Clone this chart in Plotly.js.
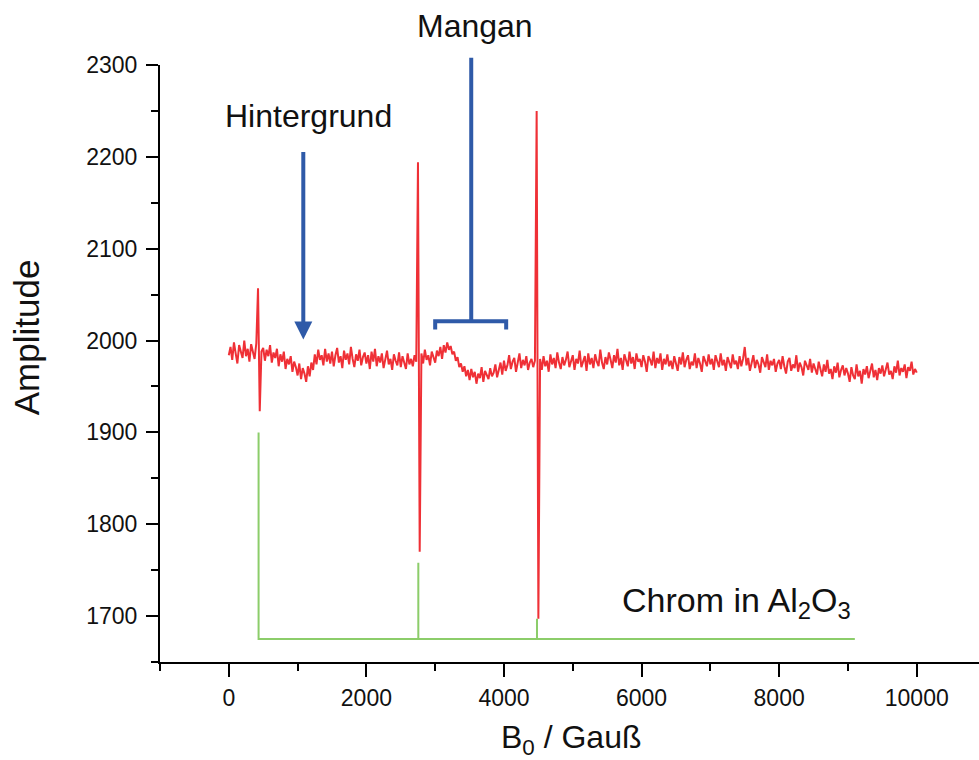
<!DOCTYPE html>
<html>
<head>
<meta charset="utf-8">
<script src="https://cdn.plot.ly/plotly-3.0.1.min.js"></script>
<style>
  html, body { margin: 0; padding: 0; background: #ffffff; }
  #chart { width: 979px; height: 760px; }
</style>
</head>
<body>
<div id="chart"></div>
<script>
// ---- Data ----
// Red EPR trace: amplitude sampled every 25 Gauss starting at 0 Gauss
const fieldStart = 0;      // Gauss
const fieldStep = 25;      // Gauss
const amplitude = [
  1984, 1993, 1979, 1998, 1986, 1975, 1995, 1988, 1981, 2000, 1983, 1991, 1977, 1996, 1989, 1980, 1997, 2057, 1923, 1988,
  1992, 1978, 1990, 1983, 1995, 1976, 1987, 1981, 1991, 1972, 1985, 1977, 1988, 1969, 1980, 1974, 1983, 1966, 1977, 1971,
  1962, 1975, 1958, 1970, 1964, 1955, 1972, 1961, 1976, 1968, 1985, 1974, 1990, 1979, 1984, 1973, 1991, 1977, 1986, 1975,
  1988, 1972, 1984, 1992, 1976, 1983, 1970, 1989, 1979, 1986, 1974, 1993, 1980, 1971, 1985, 1978, 1990, 1973, 1982, 1987,
  1975, 1984, 1969, 1988, 1977, 1991, 1972, 1983, 1976, 1986, 1970, 1982, 1989, 1974, 1980, 1968, 1985, 1978, 1973, 1987,
  1971, 1983, 1976, 1969, 1986, 1974, 1980, 1972, 1984, 1977, 2194, 1770, 1986, 1975, 1990, 1979, 1984, 1973, 1988, 1981,
  1976, 1989, 1983, 1993, 1980, 1995, 1987, 1998, 1990, 1994, 1985, 1988, 1978, 1982, 1971, 1975, 1966, 1972, 1961, 1968,
  1957, 1969, 1960, 1966, 1953, 1964, 1959, 1971, 1955, 1967, 1962, 1958, 1970, 1961, 1965, 1974, 1960, 1968, 1976, 1963,
  1978, 1967, 1973, 1984, 1969, 1977, 1981, 1966, 1975, 1986, 1970, 1979, 1973, 1983, 1968, 1976, 1980, 1971, 1978, 2250,
  1697, 1980, 1968, 1983, 1972, 1978, 1966, 1985, 1974, 1981, 1970, 1987, 1976, 1969, 1982, 1973, 1979, 1988, 1971, 1977,
  1984, 1968, 1980, 1975, 1989, 1971, 1978, 1983, 1967, 1986, 1974, 1981, 1970, 1985, 1977, 1972, 1990, 1976, 1969, 1982,
  1974, 1987, 1979, 1970, 1984, 1976, 1991, 1973, 1981, 1968, 1985, 1978, 1972, 1988, 1975, 1982, 1969, 1986, 1977, 1980,
  1971, 1984, 1977, 1966, 1983, 1979, 1973, 1988, 1970, 1981, 1975, 1986, 1968, 1980, 1974, 1985, 1972, 1978, 1969, 1983,
  1976, 1967, 1982, 1974, 1987, 1971, 1979, 1984, 1969, 1977, 1973, 1986, 1970, 1981, 1975, 1966, 1983, 1978, 1972, 1985,
  1974, 1980, 1968, 1984, 1977, 1971, 1986, 1973, 1979, 1967, 1982, 1976, 1970, 1985, 1974, 1978, 1969, 1983, 1972, 1980,
  1993, 1973, 1981, 1967, 1977, 1984, 1970, 1979, 1974, 1965, 1982, 1976, 1971, 1985, 1968, 1978, 1973, 1980, 1966, 1975,
  1979, 1969, 1983, 1972, 1964, 1977, 1981, 1967, 1974, 1970, 1984, 1966, 1976, 1971, 1962, 1978, 1973, 1968, 1980, 1965,
  1975, 1968, 1963, 1977, 1970, 1961, 1974, 1966, 1979, 1964, 1969, 1958, 1972, 1965, 1976, 1960, 1968, 1973, 1962, 1970,
  1964, 1955, 1971, 1962, 1958, 1974, 1961, 1967, 1953, 1969, 1963, 1972, 1959, 1966, 1975, 1960, 1968, 1957, 1970, 1964,
  1973, 1961, 1969, 1976, 1963, 1967, 1958, 1972, 1965, 1978, 1962, 1970, 1966, 1974, 1959, 1971, 1967, 1977, 1963, 1969,
  1965
];

// Green stick spectrum: Chrom in Al2O3
const chromField = [433, 433, 2755, 2755, 2755, 4480, 4480, 4480, 9100];
const chromAmp   = [1900, 1675, 1675, 1758, 1675, 1675, 1697, 1675, 1675];

// Axis ticks
const xTickVals = [0, 2000, 4000, 6000, 8000, 10000];
const xTickText = ['0', '2000', '4000', '6000', '8000', '10000'];
const yTickVals = [1700, 1800, 1900, 2000, 2100, 2200, 2300];
const yTickText = ['1700', '1800', '1900', '2000', '2100', '2200', '2300'];

// Annotation anchor values (in data units)
const hintergrundArrow = {x: 1083, yTip: 2001, yTail: 2207};
const manganBracket = {xStem: 3524, yTop: 2308, yBar: 2021, yFoot: 2012, xLeft: 3000, xRight: 4032};

// ---- Styling ----
const X_RANGE = [-1000, 10905];
const Y_RANGE = [1650, 2300];
const FONT = '"Liberation Sans", Arial, "DejaVu Sans", sans-serif';
const RED = '#ef3036';
const GREEN = '#8ccd6a';
const BLUE = '#2f5aa8';

function yPaper(v) { return (v - Y_RANGE[0]) / (Y_RANGE[1] - Y_RANGE[0]); }

const traces = [
  {
    type: 'scatter', mode: 'lines',
    x: chromField, y: chromAmp,
    line: {color: GREEN, width: 2},
    hoverinfo: 'skip', showlegend: false
  },
  {
    type: 'scatter', mode: 'lines',
    x0: fieldStart, dx: fieldStep, y: amplitude,
    line: {color: RED, width: 2},
    hoverinfo: 'skip', showlegend: false
  }
];

const axisCommon = {
  showgrid: false, zeroline: false,
  showline: true, linecolor: '#000', linewidth: 2,
  ticks: 'outside', tickcolor: '#000', tickwidth: 2,
  tickfont: {family: FONT, size: 23, color: '#111'},
  automargin: false
};

const layout = {
  width: 979, height: 760,
  paper_bgcolor: '#ffffff', plot_bgcolor: '#ffffff',
  margin: {l: 160, r: 0, t: 65, b: 98, pad: 0},
  showlegend: false,
  xaxis: Object.assign({}, axisCommon, {
    range: X_RANGE,
    tickmode: 'array', tickvals: xTickVals, ticktext: xTickText,
    ticklen: 13, ticklabelstandoff: 1,
    minor: {ticks: 'outside', ticklen: 7, tickwidth: 2, tickcolor: '#000', dtick: 1000, tick0: -1000}
  }),
  yaxis: Object.assign({}, axisCommon, {
    range: Y_RANGE,
    tickmode: 'array', tickvals: yTickVals, ticktext: yTickText,
    ticklen: 12, ticklabelstandoff: 4,
    minor: {ticks: 'outside', ticklen: 7, tickwidth: 2, tickcolor: '#000', dtick: 50, tick0: 1650}
  }),
  annotations: [
    {
      x: 0.503, y: -0.130, xref: 'paper', yref: 'paper', text: 'B<sub>0</sub> / Gauß', showarrow: false,
      xanchor: 'center', yanchor: 'middle', font: {family: FONT, size: 32, color: '#111'}
    },
    {
      x: -0.163, y: 2003, xref: 'paper', yref: 'y', text: 'Amplitude', textangle: -90, showarrow: false,
      xanchor: 'center', yanchor: 'middle', font: {family: FONT, size: 35, color: '#111'}
    },
    {
      x: hintergrundArrow.x, y: hintergrundArrow.yTip, xref: 'x', yref: 'y',
      ax: hintergrundArrow.x, ay: hintergrundArrow.yTail, axref: 'x', ayref: 'y',
      text: '', showarrow: true, arrowhead: 2, arrowsize: 0.9, arrowwidth: 4, arrowcolor: BLUE, standoff: 0
    },
    {
      x: 1163, y: 2244, xref: 'x', yref: 'y', text: 'Hintergrund', showarrow: false,
      xanchor: 'center', yanchor: 'middle', font: {family: FONT, size: 32, color: '#111'}
    },
    {
      x: 3582, y: yPaper(2343), xref: 'x', yref: 'paper', text: 'Mangan', showarrow: false,
      xanchor: 'center', yanchor: 'middle', font: {family: FONT, size: 32, color: '#111'}
    },
    {
      x: 5690, y: 1715, xref: 'x', yref: 'y', text: 'Chrom in Al<sub>2</sub>O<sub>3</sub>', showarrow: false,
      xanchor: 'left', yanchor: 'middle', font: {family: FONT, size: 34, color: '#111'}
    }
  ],
  shapes: [
    {type: 'line', xref: 'x', yref: 'paper', x0: manganBracket.xStem, x1: manganBracket.xStem,
     y0: yPaper(manganBracket.yTop), y1: yPaper(manganBracket.yBar), line: {color: BLUE, width: 4}},
    {type: 'path', xref: 'x', yref: 'paper',
     path: 'M ' + manganBracket.xLeft + ' ' + yPaper(manganBracket.yFoot) +
           ' L ' + manganBracket.xLeft + ' ' + yPaper(manganBracket.yBar) +
           ' L ' + manganBracket.xRight + ' ' + yPaper(manganBracket.yBar) +
           ' L ' + manganBracket.xRight + ' ' + yPaper(manganBracket.yFoot),
     line: {color: BLUE, width: 4}}
  ]
};

Plotly.newPlot('chart', traces, layout, {displayModeBar: false, staticPlot: true});
</script>
</body>
</html>
